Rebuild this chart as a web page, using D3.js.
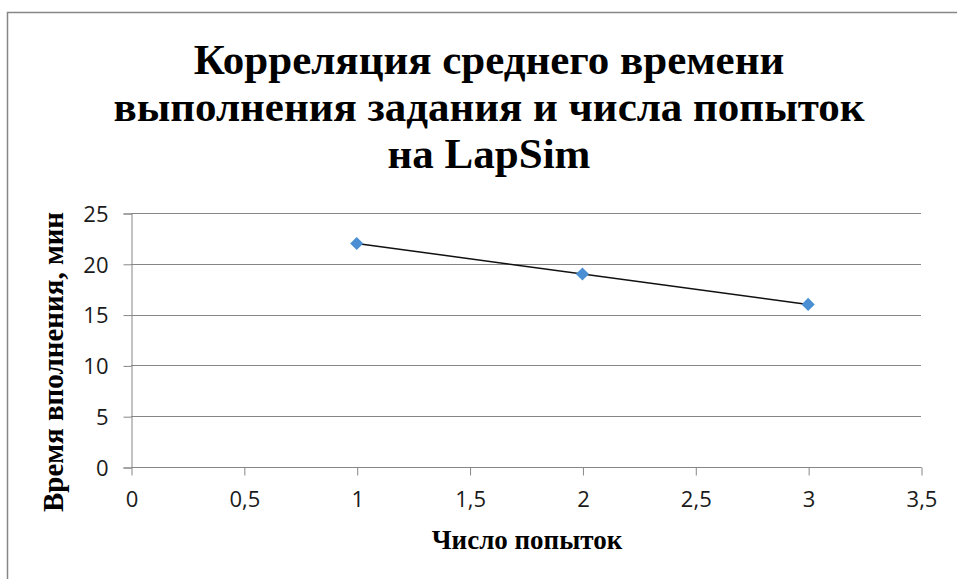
<!DOCTYPE html>
<html>
<head>
<meta charset="utf-8">
<script src="https://cdn.jsdelivr.net/npm/d3@7"></script>
<style>
  body { margin: 0; background: #fff; }
  svg { display: block; }
</style>
</head>
<body>
<script>
// data
const attempts = [1, 2, 3];
const minutes = [22, 19, 16];
const xTicks = [0, 0.5, 1, 1.5, 2, 2.5, 3, 3.5];
const yTicks = [0, 5, 10, 15, 20, 25];
const titleLines = ["Корреляция среднего времени", "выполнения задания и числа попыток", "на LapSim"];

const W = 957, H = 579;
const margin = {top: 213, right: 36, bottom: 112, left: 131};
const width = W - margin.left - margin.right,
    height = H - margin.top - margin.bottom;

const serif = "'Liberation Serif', 'Times New Roman', serif";
const sans = "'Open Sans', 'Liberation Sans', sans-serif";

const svg = d3.select("body").append("svg")
    .attr("width", W)
    .attr("height", H);

// outer chart frame
svg.append("rect")
    .attr("x", 7.5).attr("y", 12.5)
    .attr("width", W + 10).attr("height", H + 10)
    .attr("fill", "none")
    .attr("stroke", "#868686")
    .attr("stroke-width", 1.5);

// title
svg.append("g").selectAll("text")
    .data(titleLines)
    .join("text")
        .attr("x", 489)
        .attr("y", (d, i) => 74 + i * 47)
        .attr("text-anchor", "middle")
        .style("font-family", serif)
        .style("font-weight", "bold")
        .style("font-size", "43px")
        .attr("fill", "#000")
        .text(d => d);

const g = svg.append("g")
    .attr("transform", `translate(${margin.left},${margin.top})`);

const x = d3.scaleLinear().domain([0, 3.5]).range([0, width]);
const y = d3.scaleLinear().domain([0, 25]).range([height, 0]);

// horizontal gridlines
g.append("g").selectAll("line")
    .data(yTicks.filter(d => d > 0))
    .join("line")
        .attr("x1", 0).attr("x2", width)
        .attr("y1", d => Math.round(y(d)) + 0.5)
        .attr("y2", d => Math.round(y(d)) + 0.5)
        .attr("stroke", "#868686");

// x axis
const xAxis = g.append("g")
    .attr("transform", `translate(0.5,${Math.round(height) + 0.5})`)
    .call(d3.axisBottom(x).tickValues(xTicks).tickSize(8).tickPadding(16)
        .tickFormat(d => String(d).replace(".", ",")));

// y axis
const yAxis = g.append("g")
    .attr("transform", "translate(0.5,0.5)")
    .call(d3.axisLeft(y).tickValues(yTicks).tickSize(8).tickPadding(15));

[xAxis, yAxis].forEach(a => {
    a.select(".domain").attr("stroke", "#868686");
    a.selectAll(".tick line").attr("stroke", "#868686");
    a.selectAll(".tick text")
        .style("font-family", sans)
        .style("font-size", "22px")
        .attr("fill", "#1a1a1a");
});
yAxis.selectAll(".tick text").attr("dy", "0.35em");
xAxis.select(".domain").attr("d", `M0,0H${width}`);

// line
g.append("path")
    .datum(attempts.map((a, i) => [a, minutes[i]]))
    .attr("fill", "none")
    .attr("stroke", "#111")
    .attr("stroke-width", 1.5)
    .attr("d", d3.line().x(d => x(d[0])).y(d => y(d[1])));

// markers
g.selectAll(".pt")
    .data(attempts.map((a, i) => [a, minutes[i]]))
    .join("path")
        .attr("class", "pt")
        .attr("transform", d => `translate(${x(d[0])},${y(d[1])})`)
        .attr("d", d3.symbol(d3.symbolDiamond2, 110))
        .attr("fill", "#4a8fd4");

// axis titles
svg.append("text")
    .attr("x", 527).attr("y", 549)
    .attr("text-anchor", "middle")
    .style("font-family", serif)
    .style("font-weight", "bold")
    .style("font-size", "27px")
    .text("Число попыток");

svg.append("text")
    .attr("transform", "translate(63,362) rotate(-90)")
    .attr("text-anchor", "middle")
    .style("font-family", serif)
    .style("font-weight", "bold")
    .style("font-size", "29px")
    .text("Время вполнения, мин");
</script>
</body>
</html>
